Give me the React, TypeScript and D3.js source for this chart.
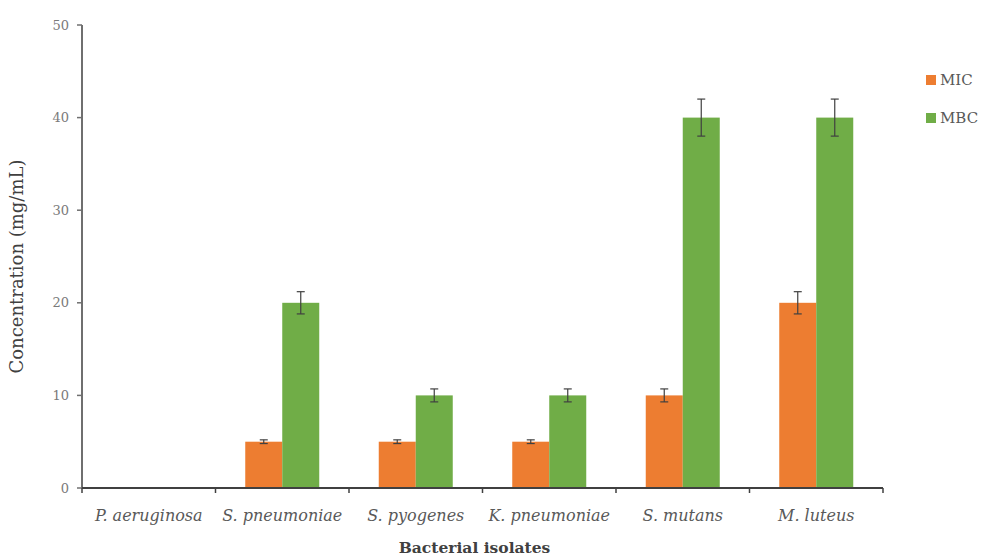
import React from "react";
import * as d3 from "d3";

const categories = ["P. aeruginosa", "S. pneumoniae", "S. pyogenes", "K. pneumoniae", "S. mutans", "M. luteus"];
const seriesNames = ["MIC", "MBC"];
const micValues = [0, 5, 5, 5, 10, 20];
const mbcValues = [0, 20, 10, 10, 40, 40];
const micErrors = [0, 0.2, 0.2, 0.2, 0.7, 1.2];
const mbcErrors = [0, 1.2, 0.7, 0.7, 2, 2];
const yTicks = [0, 10, 20, 30, 40, 50];
const colors = ["#ED7D31", "#70AD47"];

export default function App() {
  const W = 991, H = 557;
  const left = 82, right = 883, top = 25, bottom = 488;
  const x = d3.scaleBand<string>().domain(categories).range([left, right]).paddingInner(0).paddingOuter(0);
  const y = d3.scaleLinear().domain([0, 50]).range([bottom, top]);
  const barW = 37;
  const series = [
    { name: seriesNames[0], values: micValues, errors: micErrors, color: colors[0] },
    { name: seriesNames[1], values: mbcValues, errors: mbcErrors, color: colors[1] },
  ];
  const font = "'DejaVu Serif', 'Liberation Serif', serif";
  const textColor = "#595959";
  return (
    <svg width={W} height={H} style={{ position: "absolute", left: 0, top: 0, background: "#fff" }} fontFamily={font}>
      {series.map((s, si) =>
        categories.map((c, i) => {
          const cx = x(c)! + x.bandwidth() / 2;
          const bx = cx - barW + si * barW;
          const v = s.values[i];
          if (v <= 0) return null;
          return (
            <rect key={s.name + c} x={bx} y={y(v)} width={barW} height={y(0) - y(v)} fill={s.color} />
          );
        })
      )}
      {series.map((s, si) =>
        categories.map((c, i) => {
          const cx = x(c)! + x.bandwidth() / 2;
          const ex = cx - barW / 2 + si * barW;
          const v = s.values[i];
          const e = s.errors[i];
          if (v <= 0) return null;
          return (
            <g key={"e" + s.name + c} stroke="#404040" strokeWidth={1.2}>
              <line x1={ex} x2={ex} y1={y(v + e)} y2={y(v - e)} />
              <line x1={ex - 4} x2={ex + 4} y1={y(v + e)} y2={y(v + e)} />
              <line x1={ex - 4} x2={ex + 4} y1={y(v - e)} y2={y(v - e)} />
            </g>
          );
        })
      )}
      {/* y axis */}
      <line x1={left} x2={left} y1={top} y2={bottom} stroke="#6f6f6f" strokeWidth={2} />
      {yTicks.map((t) => (
        <g key={"yt" + t}>
          <line x1={left - 5} x2={left} y1={y(t)} y2={y(t)} stroke="#6f6f6f" strokeWidth={1.5} />
          <text x={left - 13} y={y(t)} dy="0.35em" textAnchor="end" fontSize={13} fill="#7a7a7a">
            {t}
          </text>
        </g>
      ))}
      {/* x axis */}
      <line x1={left} x2={right} y1={bottom} y2={bottom} stroke="#404040" strokeWidth={2} />
      {categories.map((c) => (
        <line key={"xt" + c} x1={x(c)!} x2={x(c)!} y1={bottom} y2={bottom + 5} stroke="#404040" strokeWidth={1.5} />
      ))}
      <line x1={right} x2={right} y1={bottom} y2={bottom + 5} stroke="#404040" strokeWidth={1.5} />
      {categories.map((c) => (
        <text key={"xl" + c} x={x(c)! + x.bandwidth() / 2} y={bottom + 33} textAnchor="middle" fontSize={16} fontStyle="italic" fill={textColor}>
          {c}
        </text>
      ))}
      <text x={(left + right) / 2 - 8} y={553} textAnchor="middle" fontSize={15.5} fontWeight="bold" fill="#404040">
        Bacterial isolates
      </text>
      <text transform={`translate(23, ${(top + bottom) / 2 + 10}) rotate(-90)`} textAnchor="middle" fontSize={18} fill="#404040">
        Concentration (mg/mL)
      </text>
      {series.map((s, si) => (
        <g key={"lg" + s.name} transform={`translate(926, ${80 + si * 38})`}>
          <rect x={0} y={-5} width={10} height={10} fill={s.color} />
          <text x={14} y={0} dy="0.35em" fontSize={15} fill={textColor}>
            {s.name}
          </text>
        </g>
      ))}
    </svg>
  );
}
